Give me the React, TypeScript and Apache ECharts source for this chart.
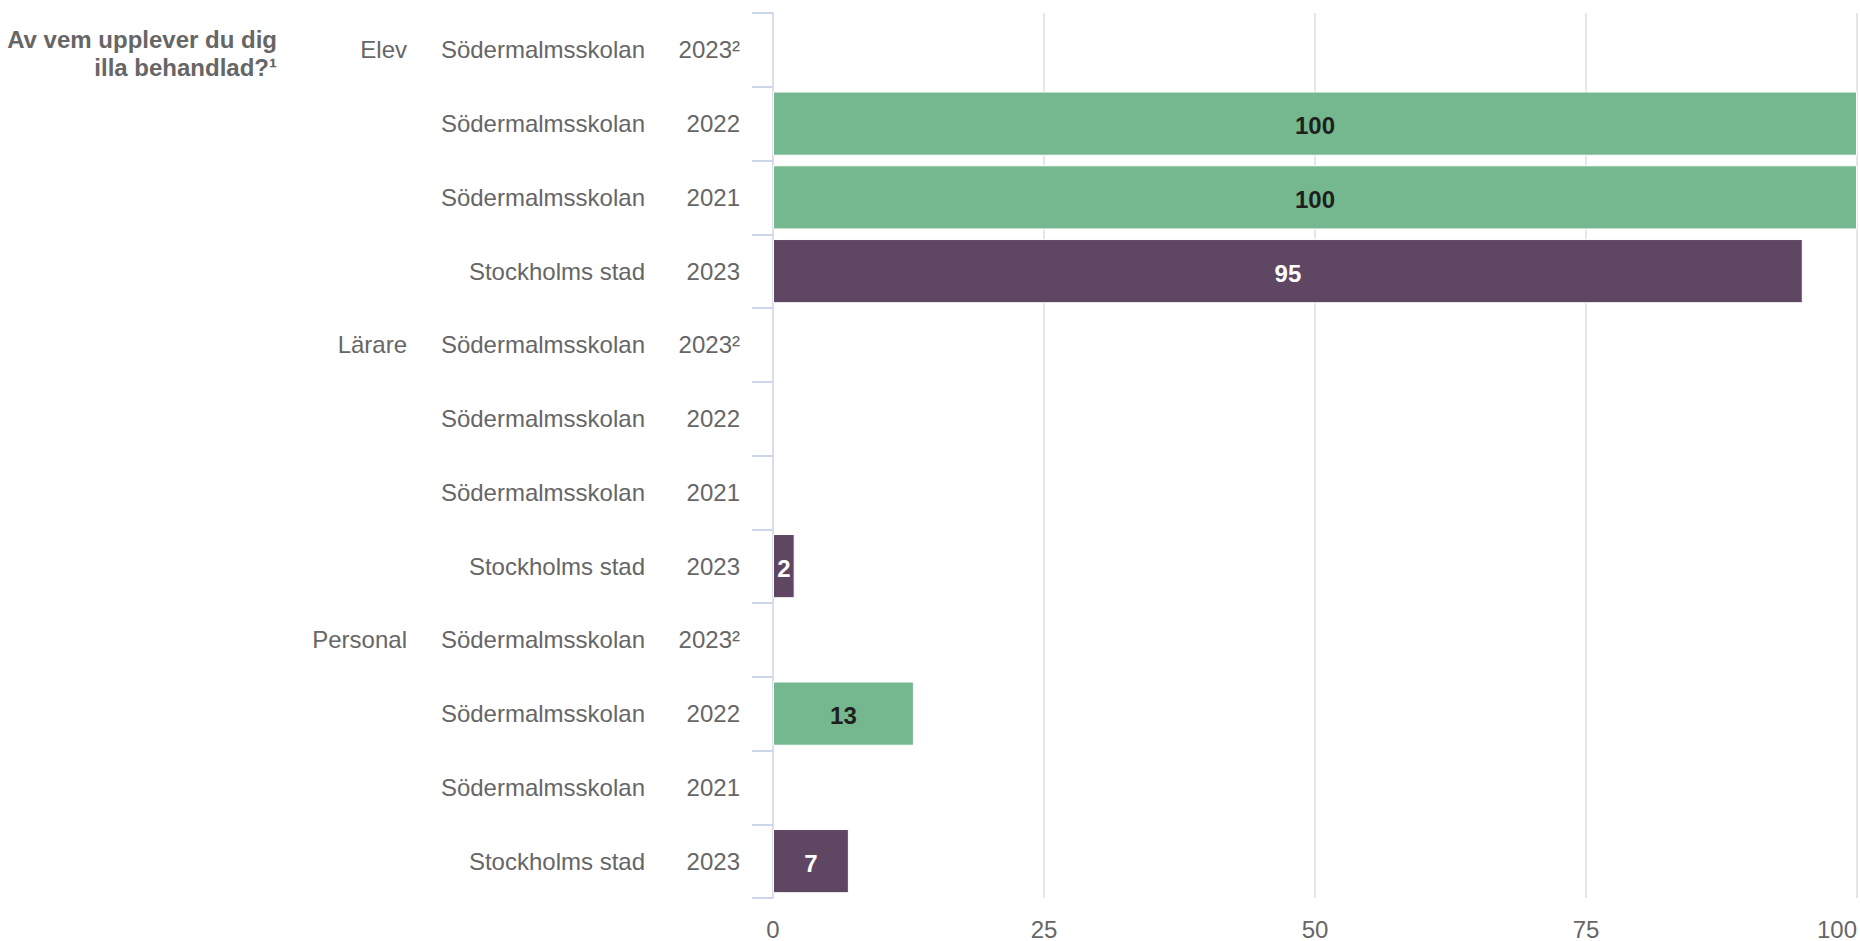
import React, { useEffect, useRef } from "react";
import * as echarts from "echarts";

const groups = ["Elev", "", "", "", "Lärare", "", "", "", "Personal", "", "", ""];
const schools = [
  "Södermalmsskolan", "Södermalmsskolan", "Södermalmsskolan", "Stockholms stad",
  "Södermalmsskolan", "Södermalmsskolan", "Södermalmsskolan", "Stockholms stad",
  "Södermalmsskolan", "Södermalmsskolan", "Södermalmsskolan", "Stockholms stad",
];
const years = ["2023²", "2022", "2021", "2023", "2023²", "2022", "2021", "2023", "2023²", "2022", "2021", "2023"];
const values: (number | null)[] = [null, 100, 100, 95, null, null, null, 2, null, 13, null, 7];
const xTicks = [0, 25, 50, 75, 100];
const titleText = "Av vem upplever du dig\nilla behandlad?¹";

const FONT = '"Liberation Sans", Arial, Helvetica, sans-serif';
const GREEN = "#75b88f";
const PURPLE = "#5f4663";

export default function App() {
  const ref = useRef<HTMLDivElement>(null);
  useEffect(() => {
    document.body.style.margin = "0";
    if (!ref.current) return;
    const chart = echarts.init(ref.current, null, { renderer: "svg" });
    const data = values.map((v, i) => {
      const isCity = schools[i] === "Stockholms stad";
      return {
        value: v,
        itemStyle: { color: isCity ? PURPLE : GREEN },
        label: { color: isCity ? "#ffffff" : "#1f1f1f" },
      };
    });
    const labelBase = { fontSize: 24, color: "#666666", fontFamily: FONT };
    const yLabel = { ...labelBase, padding: [4, 0, 0, 0] };
    chart.setOption({
      animation: false,
      grid: { left: 773, right: 3, top: 13, bottom: 43, containLabel: false, outerBoundsMode: "none" },
      graphic: [
        {
          type: "text",
          x: 277,
          y: 25,
          style: {
            text: titleText,
            textAlign: "right",
            textVerticalAlign: "top",
            fill: "#666666",
            font: `bold 24px ${FONT}`,
            lineHeight: 28,
          },
        },
      ],
      xAxis: {
        type: "value",
        min: xTicks[0],
        max: xTicks[xTicks.length - 1],
        interval: 25,
        axisLine: { show: false },
        axisTick: { show: false },
        splitLine: { show: true, lineStyle: { color: "#e6e6e6", width: 2 } },
        axisLabel: { ...labelBase, margin: 22, lineHeight: 18, alignMaxLabel: "right" },
      },
      yAxis: [
        {
          type: "category",
          data: years,
          inverse: true,
          axisLine: { show: true, lineStyle: { color: "#dcdde8", width: 2 } },
          axisTick: { show: true, length: 21, lineStyle: { color: "#ccd6eb", width: 2 } },
          axisLabel: { ...yLabel, margin: 33 },
          splitLine: { show: false },
        },
        {
          type: "category",
          data: schools,
          inverse: true,
          position: "left",
          axisLine: { show: false },
          axisTick: { show: false },
          axisLabel: { ...yLabel, margin: 128 },
          splitLine: { show: false },
        },
        {
          type: "category",
          data: groups,
          inverse: true,
          position: "left",
          axisLine: { show: false },
          axisTick: { show: false },
          axisLabel: { ...yLabel, margin: 366 },
          splitLine: { show: false },
        },
      ],
      series: [
        {
          type: "bar",
          xAxisIndex: 0,
          yAxisIndex: 0,
          data,
          barCategoryGap: "13%",
          itemStyle: { borderColor: "#ffffff", borderWidth: 1 },
          label: {
            show: true,
            position: "inside",
            offset: [0, 2],
            fontSize: 24,
            fontWeight: "bold",
            fontFamily: FONT,
            formatter: (p: any) => (p.value == null ? "" : String(p.value)),
          },
        },
      ],
    });
    return () => chart.dispose();
  }, []);
  return <div ref={ref} style={{ width: 1860, height: 941 }} />;
}
